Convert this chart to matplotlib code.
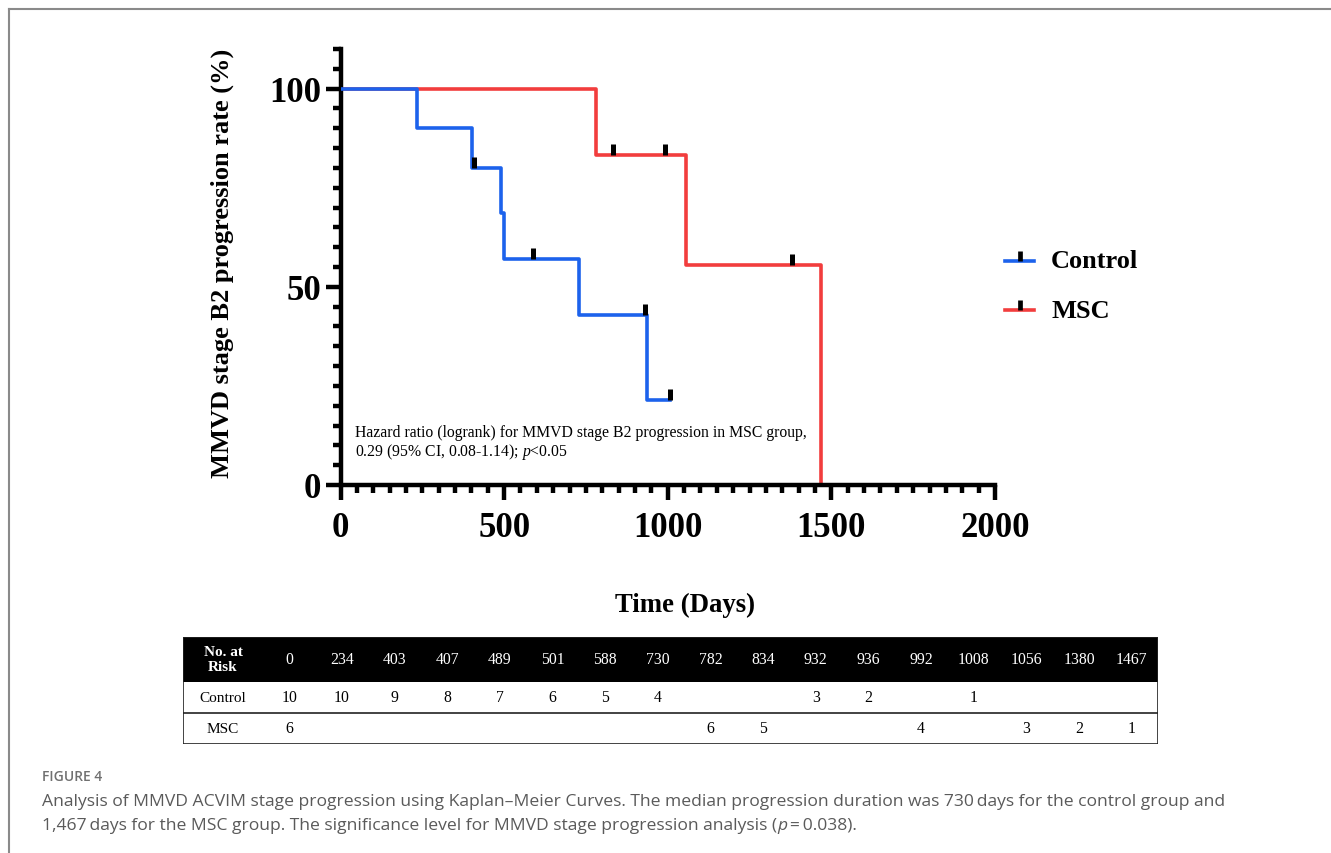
import matplotlib
matplotlib.use("Agg")
import matplotlib.pyplot as plt
from matplotlib.ticker import MultipleLocator
from matplotlib.lines import Line2D
from matplotlib.patches import Rectangle

plt.rcParams['mathtext.fontset'] = 'custom'
plt.rcParams['mathtext.it'] = 'Liberation Serif:italic'
plt.rcParams['mathtext.rm'] = 'Liberation Serif'

SERIF = 'Liberation Serif'

# step curves (days, % without progression)
control_days = [0, 234, 403, 489, 501, 730, 936, 1008]
control_pct = [100, 90, 80, 68.6, 57.1, 42.9, 21.4, 21.4]
control_cens_days = [407, 588, 932, 1008]
control_cens_pct = [80, 57.1, 42.9, 21.4]

msc_days = [0, 782, 1056, 1467]
msc_pct = [100, 83.3, 55.6, 0]
msc_cens_days = [834, 992, 1380]
msc_cens_pct = [83.3, 83.3, 55.6]

# number at risk table
risk_times = [0, 234, 403, 407, 489, 501, 588, 730, 782, 834, 932, 936, 992,
              1008, 1056, 1380, 1467]
control_risk = [10, 10, 9, 8, 7, 6, 5, 4, None, None, 3, 2, None, 1, None, None, None]
msc_risk = [6, None, None, None, None, None, None, None, 6, 5, None, None, 4,
            None, 3, 2, 1]

blue = "#1c62ec"
red = "#f23d3d"

W, H = 1331, 854
fig = plt.figure(figsize=(W / 100, H / 100), dpi=100)

# frame lines top and left
fig.add_artist(Line2D([9 / W, 1], [1 - 10 / H, 1 - 10 / H], color="#8a8a8a", lw=1.5))
fig.add_artist(Line2D([9 / W, 9 / W], [0, 1 - 10 / H], color="#8a8a8a", lw=1.5))

ax = fig.add_axes([340.5 / W, 1 - 486 / H, (995 - 340.5) / W, (486 - 50) / H])

ax.step(control_days, control_pct, where="post", color=blue, lw=2.6, zorder=3)
ax.step(msc_days, msc_pct, where="post", color=red, lw=2.6, zorder=2)
ax.plot(control_cens_days, control_cens_pct, ls="none", marker=2, ms=8, mew=3.6,
        color="black", zorder=4)
ax.plot(msc_cens_days, msc_cens_pct, ls="none", marker=2, ms=8, mew=3.6,
        color="black", zorder=4)

ax.set_xlim(0, 2000)
ax.set_ylim(0, 110)
for s in ["top", "right"]:
    ax.spines[s].set_visible(False)
for s in ["left", "bottom"]:
    ax.spines[s].set_linewidth(3.2)

ax.xaxis.set_major_locator(MultipleLocator(500))
ax.xaxis.set_minor_locator(MultipleLocator(50))
ax.yaxis.set_major_locator(MultipleLocator(50))
ax.yaxis.set_minor_locator(MultipleLocator(5))
ax.tick_params(which="major", length=11, width=3.2, direction="out", pad=8)
ax.tick_params(which="minor", length=6, width=3.2, direction="out")
ax.tick_params(axis="y", which="major", pad=3)
for lab in ax.get_xticklabels() + ax.get_yticklabels():
    lab.set_fontfamily(SERIF)
    lab.set_fontweight("bold")
    lab.set_fontsize(25)

fig.text(222 / W, 1 - 263 / H, "MMVD stage B2 progression rate (%)", rotation=90,
         ha="center", va="center", family=SERIF, weight="bold", fontsize=19)
fig.text(685 / W, 1 - 605 / H, "Time (Days)", ha="center", va="center",
         family=SERIF, weight="bold", fontsize=19.3)

ax.text(44, 10.8, "Hazard ratio (logrank) for MMVD stage B2 progression in MSC group,\n"
        r"0.29 (95% CI, 0.08-1.14); $\it{p}$<0.05",
        family=SERIF, fontsize=11.3, ha="left", va="center", linespacing=1.05)

# legend
for name, col, yy in [("Control", blue, 262), ("MSC", red, 311)]:
    fig.add_artist(Line2D([1005 / W, 1034 / W], [1 - yy / H, 1 - yy / H], color=col, lw=2.6))
    fig.add_artist(Line2D([1019.5 / W], [1 - yy / H], marker=2, ms=7, mew=3.4, color="black"))
    fig.text(1051 / W, 1 - yy / H, name, ha="left", va="center", family=SERIF,
             weight="bold", fontsize=19)

# number at risk table
tx0, tx1, ty0, ty1 = 183, 1158, 638, 745
tab = fig.add_axes([tx0 / W, 1 - ty1 / H, (tx1 - tx0) / W, (ty1 - ty0) / H])
first_w = 80.0
col_w = (tx1 - tx0 - first_w) / len(risk_times)
tab.set_xlim(0, tx1 - tx0)
tab.set_ylim(ty1 - ty0, 0)
tab.axis("off")
head_h = 45
row_h = (ty1 - ty0 - head_h) / 2
tab.add_patch(Rectangle((0, 0), tx1 - tx0, head_h, color="black", lw=0))
tab.add_patch(Rectangle((0, 0), tx1 - tx0, ty1 - ty0, fill=False, ec="#222222", lw=1.2))
tab.plot([0, tx1 - tx0], [head_h + row_h] * 2, color="#222222", lw=1.2)
tab.text(first_w / 2, head_h / 2, "No. at\nRisk", ha="center", va="center", color="white",
         family=SERIF, weight="bold", fontsize=11, linespacing=1.2)
tab.text(first_w / 2, head_h + row_h / 2, "Control", ha="center", va="center",
         family=SERIF, fontsize=11)
tab.text(first_w / 2, head_h + 1.5 * row_h, "MSC", ha="center", va="center",
         family=SERIF, fontsize=11)
for i, t in enumerate(risk_times):
    cx = first_w + (i + 0.5) * col_w
    tab.text(cx, head_h / 2, str(t), ha="center", va="center", color="white",
             family=SERIF, fontsize=11.3)
    if control_risk[i] is not None:
        tab.text(cx, head_h + row_h / 2, str(control_risk[i]), ha="center", va="center",
                 family=SERIF, fontsize=11.3)
    if msc_risk[i] is not None:
        tab.text(cx, head_h + 1.5 * row_h, str(msc_risk[i]), ha="center", va="center",
                 family=SERIF, fontsize=11.3)

# caption
cx0 = 42 / W
fig.text(cx0, 1 - 777 / H, "FIGURE 4", ha="left", va="center", family="Open Sans",
         weight="semibold", fontsize=10, color="#707070")
fig.text(cx0, 1 - 802 / H,
         "Analysis of MMVD ACVIM stage progression using Kaplan\u2013Meier Curves. The median "
         "progression duration was 730\u2009days for the control group and",
         ha="left", va="center", family="Open Sans", fontsize=12.6, color="#5a5a5a")
fig.text(cx0, 1 - 826 / H,
         "1,467\u2009days for the MSC group. The significance level for MMVD stage progression "
         "analysis (",
         ha="left", va="center", family="Open Sans", fontsize=12.6, color="#5a5a5a")

# finish caption line 2 with italic p
r = fig.canvas.get_renderer()
t2 = fig.texts[-1]
bb = t2.get_window_extent(renderer=r)
tp = fig.text(bb.x1 / W, 1 - 826 / H, "p", ha="left", va="center", family="Open Sans",
              style="italic", fontsize=12.6, color="#5a5a5a")
bb2 = tp.get_window_extent(renderer=r)
fig.text(bb2.x1 / W, 1 - 826 / H, "\u2009=\u20090.038).", ha="left", va="center",
         family="Open Sans", fontsize=12.6, color="#5a5a5a")

fig.savefig("out.png", dpi=100)
